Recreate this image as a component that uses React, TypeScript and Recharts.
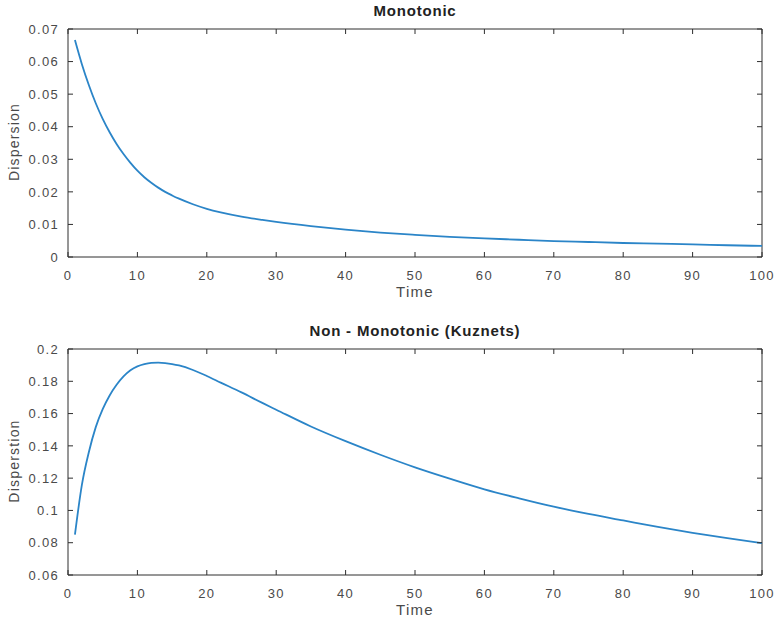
import { Line, LineChart, ReferenceLine, XAxis, YAxis } from 'recharts';

const times = [1, 2, 3, 4, 5, 6, 7, 8, 9, 10, 11, 12, 13, 14, 15, 16, 18, 20, 22, 25, 28, 30, 35, 40, 45, 50, 55, 60, 65, 70, 75, 80, 85, 90, 95, 100];

const monotonic = [
  0.0666, 0.0592, 0.0528, 0.0472, 0.0424, 0.0383, 0.0347, 0.0316, 0.0289, 0.0265, 0.0245, 0.0228, 0.0213, 0.02,
  0.0189, 0.0179, 0.0162, 0.0148, 0.0137, 0.0124, 0.0114, 0.0108, 0.0095, 0.0084, 0.0075, 0.0068, 0.0062, 0.0057,
  0.0053, 0.0049, 0.0046, 0.0043, 0.0041, 0.0039, 0.0036, 0.0034,
];

const kuznets = [
  0.085, 0.1158, 0.136, 0.1516, 0.1627, 0.1712, 0.1778, 0.183, 0.1868, 0.1892, 0.1906, 0.1914, 0.1916, 0.1913,
  0.1907, 0.1898, 0.187, 0.1833, 0.1792, 0.1731, 0.1666, 0.1624, 0.152, 0.1429, 0.1345, 0.1267, 0.1197, 0.1131,
  0.1075, 0.1023, 0.0978, 0.0938, 0.0898, 0.0861, 0.0828, 0.0798,
];

const xTicks = [0, 10, 20, 30, 40, 50, 60, 70, 80, 90, 100];
const topYTicks = [0, 0.01, 0.02, 0.03, 0.04, 0.05, 0.06, 0.07];
const bottomYTicks = [0.06, 0.08, 0.1, 0.12, 0.14, 0.16, 0.18, 0.2];

const AXIS = '#2e2e2e';
const TEXT = '#4a4a4a';
const LINE = '#2b85c8';
const FONT = '"Liberation Sans", Arial, Helvetica, sans-serif';

const PLOT_LEFT = 68;
const PLOT_RIGHT = 762;
const TICK_LEN = 5;
const X_GAP = 14;
const Y_GAP = 9;

type PanelProps = {
  top: number;
  height: number;
  marginTop: number;
  xAxisHeight: number;
  values: number[];
  yTicks: number[];
  title: string;
  yLabel: string;
};

const Panel = ({ top, height, marginTop, xAxisHeight, values, yTicks, title, yLabel }: PanelProps) => {
  const data = times.map((t, i) => ({ time: t, value: values[i] }));
  const domain: [number, number] = [yTicks[0], yTicks[yTicks.length - 1]];
  const plotTop = top + marginTop;
  const plotBottom = top + height - xAxisHeight;

  // inward ticks on bottom + top, label below
  const renderXTick = (props: any) => {
    const { x, y, payload } = props;
    const axisY = y - X_GAP;
    return (
      <g>
        <line x1={x} x2={x} y1={axisY} y2={axisY - TICK_LEN} stroke={AXIS} />
        <line x1={x} x2={x} y1={marginTop} y2={marginTop + TICK_LEN} stroke={AXIS} />
        <text
          x={x}
          y={y}
          dy="0.71em"
          textAnchor="middle"
          fill={TEXT}
          fontSize={13}
          fontFamily={FONT}
          letterSpacing={1.3}
        >
          {payload.value}
        </text>
      </g>
    );
  };

  // inward ticks on left + right, label to the left
  const renderYTick = (props: any) => {
    const { y, payload } = props;
    return (
      <g>
        <line x1={PLOT_LEFT} x2={PLOT_LEFT + TICK_LEN} y1={y} y2={y} stroke={AXIS} />
        <line x1={PLOT_RIGHT} x2={PLOT_RIGHT - TICK_LEN} y1={y} y2={y} stroke={AXIS} />
        <text
          x={PLOT_LEFT - Y_GAP}
          y={y}
          dy="0.36em"
          textAnchor="end"
          fill={TEXT}
          fontSize={13}
          fontFamily={FONT}
          letterSpacing={1.3}
        >
          {String(payload.value)}
        </text>
      </g>
    );
  };

  return (
    <>
      <div style={{ position: 'absolute', left: 0, top }}>
        <LineChart
          width={777}
          height={height}
          data={data}
          margin={{ top: marginTop, right: 777 - PLOT_RIGHT, bottom: 0, left: 0 }}
        >
          <XAxis
            dataKey="time"
            type="number"
            domain={[0, 100]}
            ticks={xTicks}
            height={xAxisHeight}
            tickSize={0}
            tickLine={false}
            tickMargin={X_GAP}
            stroke={AXIS}
            tick={renderXTick}
          />
          <YAxis
            type="number"
            domain={domain}
            ticks={yTicks}
            width={PLOT_LEFT}
            tickSize={0}
            tickLine={false}
            tickMargin={Y_GAP}
            stroke={AXIS}
            tick={renderYTick}
          />
          <ReferenceLine y={domain[1]} stroke={AXIS} strokeWidth={1} />
          <ReferenceLine x={100} stroke={AXIS} strokeWidth={1} />
          <Line
            type="monotone"
            dataKey="value"
            stroke={LINE}
            strokeWidth={1.8}
            dot={false}
            isAnimationActive={false}
          />
        </LineChart>
      </div>
      <div
        style={{
          position: 'absolute',
          left: PLOT_LEFT,
          width: PLOT_RIGHT - PLOT_LEFT,
          top: plotTop - 27,
          textAlign: 'center',
          fontFamily: FONT,
          fontWeight: 'bold',
          fontSize: 15,
          letterSpacing: 0.8,
          color: '#222',
        }}
      >
        {title}
      </div>
      <div
        style={{
          position: 'absolute',
          left: PLOT_LEFT,
          width: PLOT_RIGHT - PLOT_LEFT,
          top: plotBottom + 26,
          textAlign: 'center',
          fontFamily: FONT,
          fontSize: 15,
          letterSpacing: 1.3,
          color: TEXT,
        }}
      >
        Time
      </div>
      <div
        style={{
          position: 'absolute',
          left: 14 - 60,
          width: 120,
          top: (plotTop + plotBottom) / 2 - 9,
          textAlign: 'center',
          fontFamily: FONT,
          fontSize: 14,
          letterSpacing: 1.2,
          color: TEXT,
          transform: 'rotate(-90deg)',
        }}
      >
        {yLabel}
      </div>
    </>
  );
};

export default function App() {
  return (
    <div
      style={{
        position: 'absolute',
        left: 0,
        top: 0,
        width: 777,
        height: 621,
        background: '#fff',
        overflow: 'hidden',
      }}
    >
      <Panel
        top={0}
        height={310}
        marginTop={29}
        xAxisHeight={53}
        values={monotonic}
        yTicks={topYTicks}
        title="Monotonic"
        yLabel="Dispersion"
      />
      <Panel
        top={310}
        height={311}
        marginTop={39}
        xAxisHeight={46}
        values={kuznets}
        yTicks={bottomYTicks}
        title="Non - Monotonic (Kuznets)"
        yLabel="Disperstion"
      />
    </div>
  );
}
